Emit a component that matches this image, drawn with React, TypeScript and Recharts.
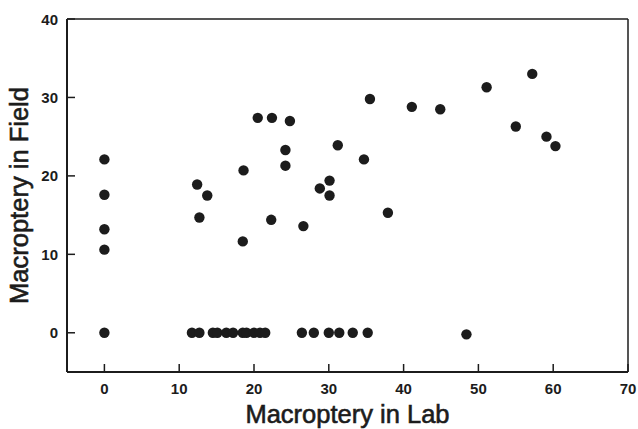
import React from 'react';
import { ScatterChart, Scatter, XAxis, YAxis, ReferenceLine } from 'recharts';

const labValues: number[] = [
  0, 0, 0, 0, 0,
  12.4, 13.75, 12.7, 18.6, 18.5,
  20.5, 22.4, 24.8, 24.2, 24.2, 22.3, 26.6,
  31.2, 35.5, 41.1, 44.9, 34.7, 30.1, 28.8, 30.1, 37.9,
  51.1, 57.2, 55.0, 59.1, 60.3,
  11.7, 12.7, 14.5, 15.1, 16.3, 17.2, 18.5, 19.0, 20.0, 20.8, 21.5,
  26.4, 28.0, 30.0, 31.4, 33.2, 35.2, 48.4,
];
const fieldValues: number[] = [
  22.1, 17.6, 13.2, 10.6, 0,
  18.9, 17.5, 14.7, 20.7, 11.65,
  27.4, 27.4, 27.0, 23.3, 21.3, 14.4, 13.6,
  23.9, 29.8, 28.8, 28.5, 22.1, 19.4, 18.4, 17.5, 15.3,
  31.3, 33.0, 26.3, 25.0, 23.8,
  0, 0, 0, 0, 0, 0, 0, 0, 0, 0, 0,
  0, 0, 0, 0, 0, 0, -0.2,
];
const xTicks: number[] = [0, 10, 20, 30, 40, 50, 60, 70];
const yTicks: number[] = [0, 10, 20, 30, 40];
const xTitle = 'Macroptery in Lab';
const yTitle = 'Macroptery in Field';

const points = labValues.map((x, i) => ({ x, y: fieldValues[i] }));

const FONT = '"Liberation Sans", Arial, Helvetica, sans-serif';
const INK = '#1c1c1c';

const XTick = (props: any) => {
  const { x, y, payload } = props;
  return (
    <g>
      <line x1={x} y1={y} x2={x} y2={y - 8} stroke={INK} strokeWidth={1.5} />
      <text x={x} y={y + 22} textAnchor="middle" fontFamily={FONT} fontWeight="bold" fontSize={15} fill={INK}>
        {payload.value}
      </text>
    </g>
  );
};

const YTick = (props: any) => {
  const { x, y, payload } = props;
  return (
    <g>
      <line x1={x} y1={y} x2={x + 8} y2={y} stroke={INK} strokeWidth={1.5} />
      <text x={x - 9} y={y + 5.5} textAnchor="end" fontFamily={FONT} fontWeight="bold" fontSize={15} fill={INK}>
        {payload.value}
      </text>
    </g>
  );
};

const Dot = (props: any) => {
  const { cx, cy } = props;
  return <circle cx={cx} cy={cy} r={5.2} fill={INK} />;
};

const XLabel = (props: any) => {
  const vb = props.viewBox;
  return (
    <text x={vb.x + vb.width / 2} y={vb.y + 51} textAnchor="middle" fontFamily={FONT} fontSize={25.5} fill={INK} stroke={INK} strokeWidth={0.6}>
      {xTitle}
    </text>
  );
};

const YLabel = (props: any) => {
  const vb = props.viewBox;
  const cx = vb.x + 28;
  const cy = vb.y + vb.height / 2;
  return (
    <text x={cx} y={cy} textAnchor="middle" fontFamily={FONT} fontSize={25.5} fill={INK} stroke={INK} strokeWidth={0.6} transform={`rotate(-90 ${cx} ${cy})`}>
      {yTitle}
    </text>
  );
};

export default function App() {
  return (
    <div style={{ position: 'absolute', left: 0, top: 0, background: '#fff' }}>
      <ScatterChart width={638} height={429} margin={{ top: 19, right: 10, left: 0, bottom: 0 }}>
        <XAxis
          type="number"
          dataKey="x"
          domain={[-5, 70]}
          ticks={xTicks}
          interval={0}
          allowDataOverflow
          height={57}
          tickSize={0}
          tickMargin={0}
          tickLine={false}
          tick={<XTick />}
          axisLine={{ stroke: INK, strokeWidth: 2 }}
          label={<XLabel />}
        />
        <YAxis
          type="number"
          dataKey="y"
          domain={[-5, 40]}
          ticks={yTicks}
          interval={0}
          allowDataOverflow
          width={67}
          tickSize={0}
          tickMargin={0}
          tickLine={false}
          tick={<YTick />}
          axisLine={{ stroke: INK, strokeWidth: 2 }}
          label={<YLabel />}
        />
        <ReferenceLine y={40} stroke={INK} strokeWidth={1.5} ifOverflow="extendDomain" />
        <ReferenceLine x={70} stroke={INK} strokeWidth={1.5} ifOverflow="extendDomain" />
        <Scatter data={points} shape={<Dot />} isAnimationActive={false} />
      </ScatterChart>
    </div>
  );
}
